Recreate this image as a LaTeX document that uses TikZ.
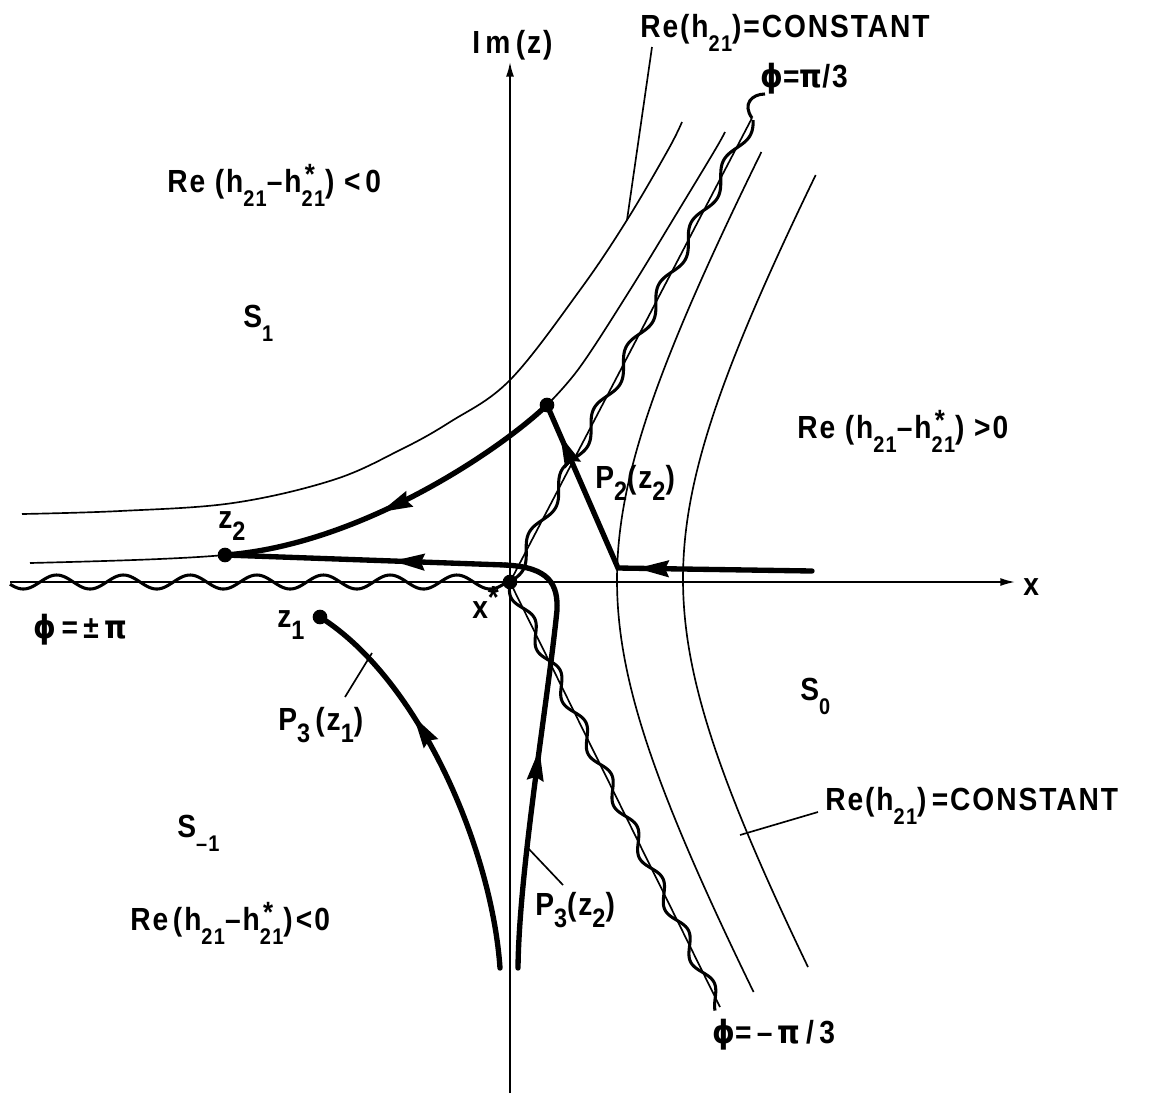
\documentclass[tikz,border=0pt]{standalone}
\usepackage{fontspec}
\setmainfont{Liberation Sans}
\newfontfamily\lab[FakeStretch=0.88,LetterSpace=6]{Liberation Sans Bold}
\newfontfamily\sym[FakeStretch=0.9]{DejaVu Sans Bold}
\usetikzlibrary{arrows.meta,decorations.markings}
\newcommand\dn[1]{\raisebox{-0.45em}{\fontsize{17}{17}\selectfont #1}}
\newcommand\Dn[1]{\raisebox{-0.4em}{\fontsize{20}{20}\selectfont #1}}
\newcommand\hst[1]{\rlap{\kern0.1em\raisebox{0.25em}{\fontsize{22}{22}\selectfont *}}\dn{#1}}
\begin{document}
\begin{tikzpicture}[x=0.75pt,y=-0.75pt,
  thincurve/.style={line width=1.25pt},
  thickpath/.style={line width=4pt, line cap=round, line join=miter},
  wave/.style={line width=2.3pt, line join=round},
  dot/.style={circle, fill=black, inner sep=0pt, minimum size=11pt},
  lbl/.style={font=\lab\fontsize{24}{27}\selectfont, inner sep=0pt, anchor=base west},
  >={Stealth[length=24pt,width=13pt,inset=3pt,line width=0pt]},
  arr/.style={postaction={decorate}, decoration={markings, mark=at position #1 with {\arrow{>}}}},
  axisline/.style={line width=1.25pt, -{Latex[length=11pt,width=6pt]}},
]
\useasboundingbox (0,0) rectangle (1156,1093);

% axes
\coordinate (xl) at (10,582);
\coordinate (xr) at (1015,582);
\coordinate (yb) at (510,1093);
\coordinate (yt) at (510,62);
\draw[axisline] (xl) -- (xr);
\draw[axisline] (yb) -- (yt);
\node[lbl] (xlab) at (1023,595) {x};
\node[lbl] (imz) at (472,53) {I\,m\,(z)};

% Re(h21) = constant curves
\draw[thincurve] plot[smooth, tension=0.6] coordinates {(22,514) (120,511) (233,503) (333,480) (400,450) (450,422) (510,380) (580,290) (627,220) (668,150) (682,122)};
\draw[thincurve] (30,563) .. controls (110,561) and (180,559) .. (225,555);
\draw[thincurve] plot[smooth, tension=0.6] coordinates {(547,405) (580,367) (630,290) (680,208) (715,150) (725,132)};
\draw[thincurve] plot[domain=152:992, samples=120, variable=\t] ({617+120*(sqrt(1+((\t-580)/218)^2)-1)}, \t);
\draw[thincurve] plot[domain=175:967, samples=120, variable=\t] ({683+120*(sqrt(1+((\t-579)/218)^2)-1)}, \t);

% branch cuts (wavy)
\coordinate (ct) at (752,118);
\coordinate (cb) at (720,1007);
\draw[thincurve] (510,582) -- (ct);
\draw[thincurve] (510,582) -- (cb);
\draw[wave] plot[domain=10:506, samples=300] (\x, {582-7*sin(5.3973*(\x-40))});
\draw[wave] plot[domain=0:522, samples=400, variable=\t] ({510+0.4632*\t+6*0.8863*sin(5.1429*\t)}, {582-0.8863*\t+6*0.4632*sin(5.1429*\t)});
\draw[wave] plot[domain=0:475, samples=400, variable=\t] ({510+0.4422*\t-6*0.897*sin(6.2069*\t)}, {582+0.897*\t+6*0.4422*sin(6.2069*\t)});

% labels of cuts
\node[lbl] (phi1) at (760,87) {\sym ϕ\lab =\sym π\lab /3};
\draw[wave] (ct) .. controls (742,104) and (752,94) .. (765,94);
\node[lbl] (phi2) at (712,1043) {\sym ϕ\lab =\,–\,\sym π\lab\,/\,3};
\node[lbl] (phi3) at (33,638) {\sym ϕ\lab\,=\,±\,\sym π};

% points
\node[dot] (xs) at (510,582) {};
\node[dot] (d) at (547,405) {};
\node[dot] (z2) at (225,555) {};
\node[dot] (z1) at (320,617) {};
\coordinate (r0) at (812,571);
\coordinate (c) at (618,568);
\coordinate (b1) at (500,968);
\coordinate (b2) at (518,968);
\coordinate (k) at (505,565);

% paths
\draw[thickpath, postaction={decorate}, decoration={markings, mark=at position 0.47 with {\arrow{>}}, mark=at position 0.91 with {\arrow{>}}}] (r0) -- (c) -- (d.center);
\draw[thickpath, arr=0.55] (d.center) .. controls (500,450) and (360,545) .. (z2.center);
\draw[thickpath, arr=0.5] (b2) .. controls (519,870) and (548,700) .. (557,610) .. controls (558,585) and (550,567) .. (k);
\draw[thickpath, arr=0.4] (k) -- (z2.center);
\draw[thickpath, arr=0.66] (b1) .. controls (492,850) and (420,680) .. (z1.center);

% point labels
\node[lbl] (lz2) at (218,528) {z\Dn{2}};
\node[lbl] (lz1) at (277,627) {z\Dn{1}};
\node[lbl] (lxs) at (472,618) {x\raisebox{0.3em}{*}};
\node[lbl] (lp2) at (595,488) {P\Dn{2}(z\Dn{2})};
\node[lbl] (lp31) at (278,730) {P\Dn{3}\,(z\Dn{1})};
\node[lbl] (lp32) at (535,915) {P\Dn{3}(z\Dn{2})};
\coordinate (q1a) at (345,697);
\coordinate (q1b) at (372,653);
\draw[thincurve] (q1a) -- (q1b);
\coordinate (q2a) at (563,885);
\coordinate (q2b) at (527,847);
\draw[thincurve] (q2a) -- (q2b);

% region labels
\node[lbl] (rc1) at (640,37) {Re(h\dn{21})=CONSTANT};
\coordinate (t1a) at (652,47);
\coordinate (t1b) at (627,220);
\draw[thincurve] (t1a) -- (t1b);
\node[lbl] (rc2) at (825,810) {Re(h\dn{21})\,=CONSTANT};
\coordinate (t2a) at (818,812);
\coordinate (t2b) at (740,835);
\draw[thincurve] (t2a) -- (t2b);
\node[lbl] (ru) at (167,192) {Re\hspace{0.3em}(h\dn{21}–h\hst{21})\hspace{0.3em}<\hspace{0.15em}0};
\node[lbl] (rr) at (797,438) {Re\hspace{0.3em}(h\dn{21}–h\hst{21})\hspace{0.3em}>0};
\node[lbl] (rl) at (130,930) {Re\hspace{0.15em}(h\dn{21}–h\hst{21})\hspace{0.1em}<0};
\node[lbl] (s1) at (243,327) {S\dn{1}};
\node[lbl] (s0) at (800,700) {S\dn{0}};
\node[lbl] (sm1) at (177,837) {S\dn{–1}};
\end{tikzpicture}
\end{document}
